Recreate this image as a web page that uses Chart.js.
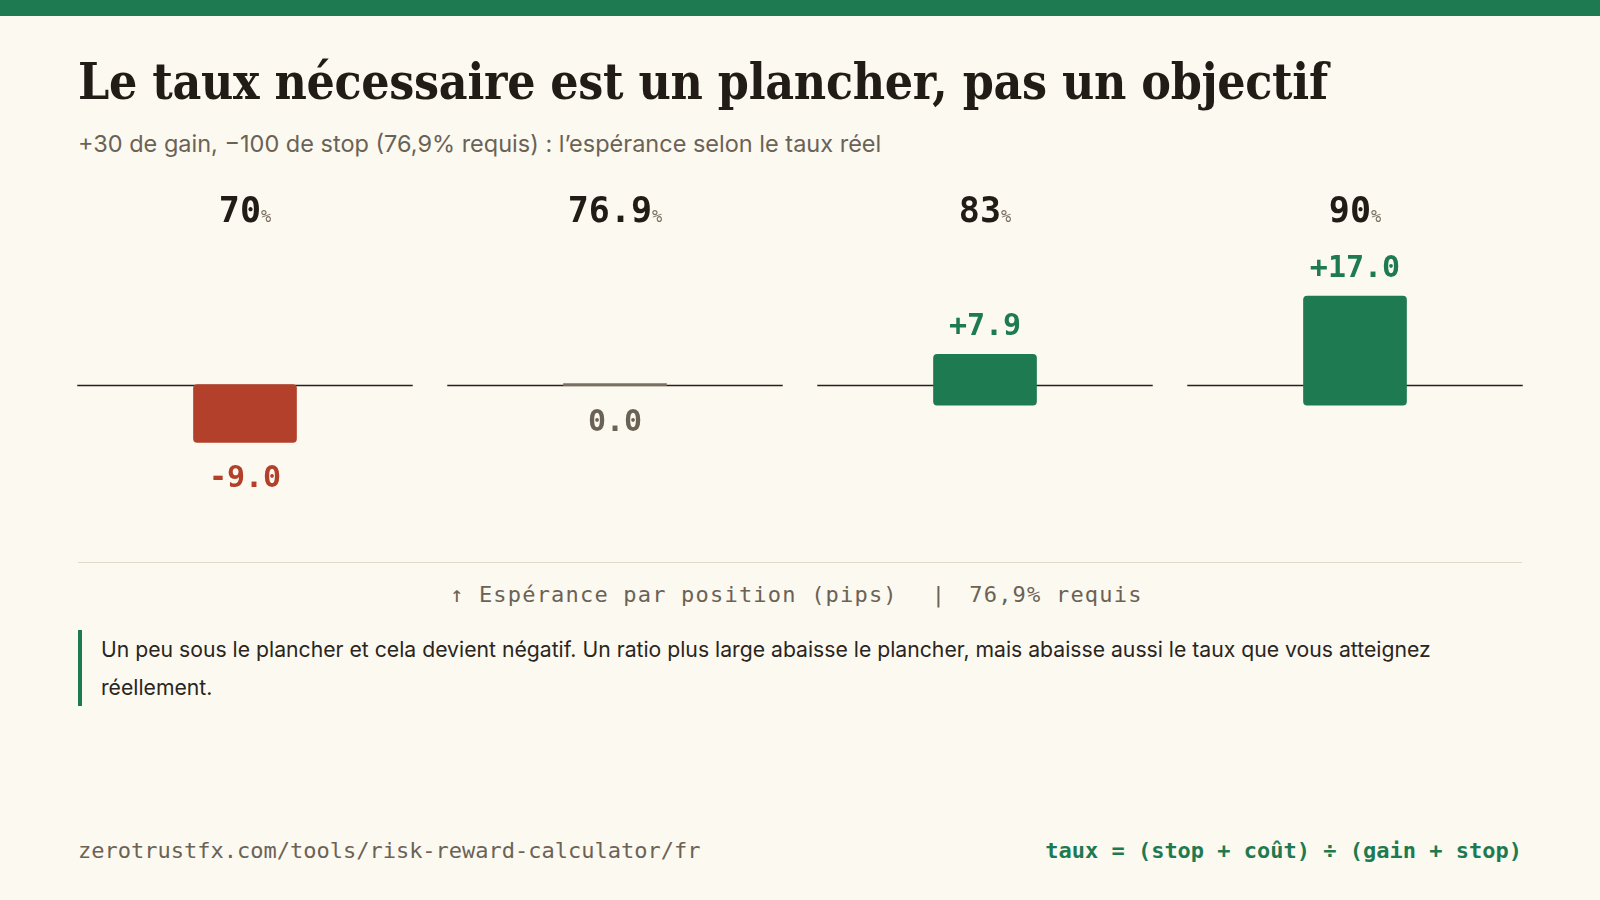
<!DOCTYPE html>
<html><head><meta charset="utf-8">
<script src="https://cdn.jsdelivr.net/npm/chart.js@4.4.1/dist/chart.umd.min.js"></script>
<style>
html,body{margin:0;padding:0;}
body{width:1600px;height:900px;background:#fcf9f1;position:relative;overflow:hidden;font-family:Inter,"Noto Sans",sans-serif;}
#topbar{position:absolute;left:0;top:0;width:1600px;height:16px;background:#1e7a50;}
#title{position:absolute;left:78px;top:56px;display:inline-block;font-family:"DejaVu Serif Condensed","DejaVu Serif",serif;font-weight:700;font-size:46px;line-height:1.2;color:#221c16;white-space:nowrap;letter-spacing:-0.3px;}
#subtitle{position:absolute;left:78px;top:129px;font-size:23.5px;line-height:30px;color:#6b6256;white-space:nowrap;}
#chartWrap{position:absolute;left:60px;top:170px;width:1480px;height:370px;}
#divider{position:absolute;left:78px;top:562px;width:1444px;height:0;border-top:1.5px solid #e2dac8;}
#caption{position:absolute;left:450px;top:580px;font-family:"DejaVu Sans Mono",monospace;font-size:22px;line-height:30px;color:#6b6256;white-space:pre;letter-spacing:1.2px;}
#caption span{display:inline-block;}
#note{position:absolute;left:78px;top:630px;width:1444px;box-sizing:border-box;border-left:4px solid #1e7a50;padding-left:19px;font-size:21.2px;line-height:38px;color:#2a2520;}
#footL{position:absolute;left:78px;top:836px;font-family:"DejaVu Sans Mono",monospace;font-size:22px;line-height:30px;color:#6b6256;white-space:nowrap;}
#footR{position:absolute;right:78px;top:836px;font-family:"DejaVu Sans Mono",monospace;font-weight:700;font-size:22px;line-height:30px;color:#1e7a50;white-space:nowrap;}
</style>
</head>
<body>
<div id="topbar"></div>
<div id="title">Le taux nécessaire est un plancher, pas un objectif</div>
<div id="subtitle">+30 de gain, −100 de stop (76,9% requis) : l’espérance selon le taux réel</div>
<div id="chartWrap"><canvas id="c" width="1480" height="370"></canvas></div>
<div id="divider"></div>
<div id="caption"><span id="capA">↑ Espérance par position (pips)</span><span id="capP" style="margin-left:34px;margin-right:23px;">|</span><span id="capB">76,9% requis</span></div>
<div id="note">Un peu sous le plancher et cela devient négatif. Un ratio plus large abaisse le plancher, mais abaisse aussi le taux que vous atteignez réellement.</div>
<div id="footL">zerotrustfx.com/tools/risk-reward-calculator/fr</div>
<div id="footR">taux = (stop + coût) ÷ (gain + stop)</div>
<script>
// ---- data ----
const rates = ['70', '76.9', '83', '90'];          // taux réel (%)
const values = [-9.0, 0.0, 7.9, 17.0];             // espérance par position (pips)

// ---- styles / layout ----
const RED = '#b3402a', GREEN = '#1e7a50', GRAY = '#7a6f60', INK = '#221c16', MUTED = '#6b6256';
const colorFor = v => v < 0 ? RED : (v > 0 ? GREEN : GRAY);
const labelColor = v => v < 0 ? RED : (v > 0 ? GREEN : MUTED);
const fmt = v => (v > 0 ? '+' : '') + v.toFixed(1);
const CANVAS_TOP = 170, CANVAS_H = 370;
const K = 6.42;                 // px per pip
const ZERO_NEG = 384.7, ZERO_POS = 405.1; // page y of baselines
const GAP = 34.5;
const HEADER_BASE = 221.5;

// fit title width to the reference layout
(function () {
  const t = document.getElementById('title');
  const target = 1249;
  const w = t.getBoundingClientRect().width;
  const fs = 46 * target / w;
  t.style.fontSize = fs.toFixed(2) + 'px';
  t.style.top = (100 - 0.946 * fs).toFixed(1) + 'px';
})();

const negScale = { min: -(CANVAS_TOP + CANVAS_H - ZERO_NEG) / K, max: (ZERO_NEG - CANVAS_TOP) / K };
const posScale = { min: -(CANVAS_TOP + CANVAS_H - ZERO_POS) / K, max: (ZERO_POS - CANVAS_TOP) / K };

const deco = {
  id: 'deco',
  beforeDatasetsDraw(chart) {
    const ctx = chart.ctx, xs = chart.scales.x, ys = chart.scales.yNeg;
    const cell = (chart.chartArea.right - chart.chartArea.left) / rates.length;
    const y0 = Math.round(ys.getPixelForValue(0)) + 0.5;
    ctx.save();
    ctx.strokeStyle = '#26211c';
    ctx.lineWidth = 1.6;
    rates.forEach((r, i) => {
      const cx = xs.getPixelForValue(i);
      ctx.beginPath();
      ctx.moveTo(cx - cell / 2 + GAP / 2, y0);
      ctx.lineTo(cx + cell / 2 - GAP / 2, y0);
      ctx.stroke();
    });
    ctx.restore();
  },
  afterDatasetsDraw(chart) {
    const ctx = chart.ctx, xs = chart.scales.x;
    ctx.save();
    ctx.textBaseline = 'alphabetic';
    rates.forEach((r, i) => {
      const cx = xs.getPixelForValue(i);
      ctx.font = 'bold 35px "DejaVu Sans Mono"';
      const w1 = ctx.measureText(r).width;
      ctx.font = '17px "DejaVu Sans Mono"';
      const w2 = ctx.measureText('%').width;
      const start = cx - (w1 + w2) / 2;
      const hb = HEADER_BASE - CANVAS_TOP;
      ctx.textAlign = 'left';
      ctx.fillStyle = INK;
      ctx.font = 'bold 35px "DejaVu Sans Mono"';
      ctx.fillText(r, start, hb);
      ctx.fillStyle = GRAY;
      ctx.font = '17px "DejaVu Sans Mono"';
      ctx.fillText('%', start + w1, hb);
      const v = values[i];
      const bar = chart.getDatasetMeta(v > 0 ? 1 : 0).data[i];
      let yl;
      if (v > 0) yl = Math.min(bar.y, bar.base) - 19;
      else yl = Math.max(bar.y, bar.base) + 45;
      ctx.textAlign = 'center';
      ctx.font = 'bold 30px "DejaVu Sans Mono"';
      ctx.fillStyle = labelColor(v);
      ctx.fillText(fmt(v), cx, yl);
    });
    ctx.restore();
  }
};

new Chart(document.getElementById('c'), {
  type: 'bar',
  data: {
    labels: rates,
    datasets: [
      {
        data: values.map(v => v <= 0 ? v : null),
        yAxisID: 'yNeg',
        backgroundColor: values.map(colorFor),
        minBarLength: 2,
        borderRadius: values.map(v => v === 0 ? 0 : 4),
        borderSkipped: false,
        barThickness: 103
      },
      {
        data: values.map(v => v > 0 ? v : null),
        yAxisID: 'yPos',
        backgroundColor: values.map(colorFor),
        borderRadius: 4,
        borderSkipped: false,
        barThickness: 103
      }
    ]
  },
  options: {
    responsive: false,
    animation: false,
    devicePixelRatio: 1,
    layout: { padding: 0 },
    datasets: { bar: { grouped: false } },
    plugins: { legend: { display: false }, tooltip: { enabled: false } },
    scales: {
      x: { display: false, offset: true },
      yNeg: { display: false, min: negScale.min, max: negScale.max },
      yPos: { display: false, min: posScale.min, max: posScale.max }
    }
  },
  plugins: [deco]
});
</script>
</body></html>
